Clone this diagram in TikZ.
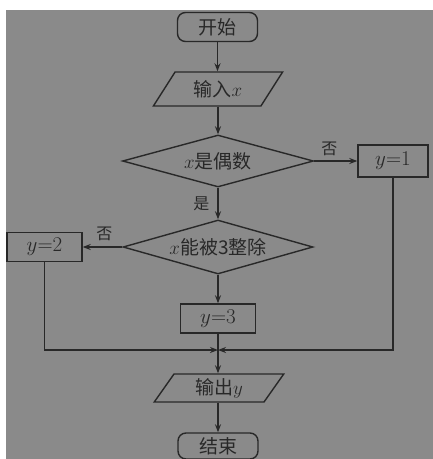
\documentclass[tikz,border=0pt]{standalone}
\usepackage{fix-cm}
\usepackage{fontspec}
\newfontfamily\cjk{Noto Sans CJK SC}
\usetikzlibrary{shapes.geometric,arrows.meta}
\definecolor{bg}{RGB}{138,138,138}
\definecolor{ink}{RGB}{40,40,40}
\tikzset{
  box/.style={draw=ink, line width=1.4pt, rectangle, minimum width=#1, inner sep=0pt, minimum height=29pt, text=ink, font=\fontsize{21pt}{23pt}\selectfont},
  term/.style={draw=ink, line width=1.4pt, rectangle, rounded corners=8pt, minimum width=80pt, minimum height=29pt, inner sep=0pt, text=ink, font=\cjk\fontsize{19pt}{21pt}\selectfont},
  io/.style={draw=ink, line width=1.4pt, trapezium, trapezium stretches=true, trapezium left angle=#1, trapezium right angle=180-#1, inner sep=0pt, text=ink, font=\cjk\fontsize{19pt}{21pt}\selectfont},
  dec/.style={draw=ink, line width=1.4pt, diamond, aspect=3.6, inner sep=0pt, text=ink, font=\cjk\fontsize{19pt}{21pt}\selectfont},
  arr/.style={draw=ink, line width=1.4pt, -{Stealth[length=8pt,width=6pt]}},
  ln/.style={draw=ink, line width=1.4pt},
  lbl/.style={text=ink, font=\cjk\fontsize{16pt}{18pt}\selectfont, inner sep=0pt}
}
\begin{document}
\begin{tikzpicture}[x=1pt,y=-1pt]
\useasboundingbox (0,0) rectangle (433,459);
\fill[white] (0,0) rectangle (433,459);
\fill[bg] (6,10) rectangle (433,459);
\node[term] (start) at (217.5,27) {开始};
\node[io=55, minimum width=130pt, minimum height=34pt] (in) at (218,89) {输入$x$};
\node[dec, minimum width=191pt, minimum height=52pt] (d1) at (218,161) {$x$是偶数};
\node[box=70pt, minimum height=32pt] (y1) at (393,161) {$y{=}1$};
\node[dec, minimum width=190pt, minimum height=54pt] (d2) at (218,247) {$x$能被3整除};
\node[box=75pt] (y2) at (44.5,247) {$y{=}2$};
\node[box=75pt] (y3) at (218,318.5) {$y{=}3$};
\node[io=62, minimum width=130pt, minimum height=28pt] (out) at (219,388) {输出$y$};
\node[term, minimum height=26pt] (end) at (218,446) {结束};
\coordinate (m) at (218,350);
\draw[arr] (start.south) -- (start.south |- in.north);
\draw[arr] (in.south -| d1.north) -- (d1.north);
\draw[arr] (d1.east) -- (y1.west) node[lbl, pos=0.35, above=5pt] {否};
\draw[arr] (d1.south) -- (d2.north) node[lbl, midway, left=8pt] {是};
\draw[arr] (d2.west) -- (y2.east) node[lbl, pos=0.45, above=6pt] {否};
\draw[arr] (d2.south) -- (y3.north);
\draw[ln] (y3.south) -- (m);
\draw[arr] (y2.south) |- (m);
\draw[arr] (y1.south) |- (m);
\draw[arr] (m) -- (m |- out.north);
\draw[arr] (m |- out.south) -- (end.north);
\end{tikzpicture}
\end{document}
